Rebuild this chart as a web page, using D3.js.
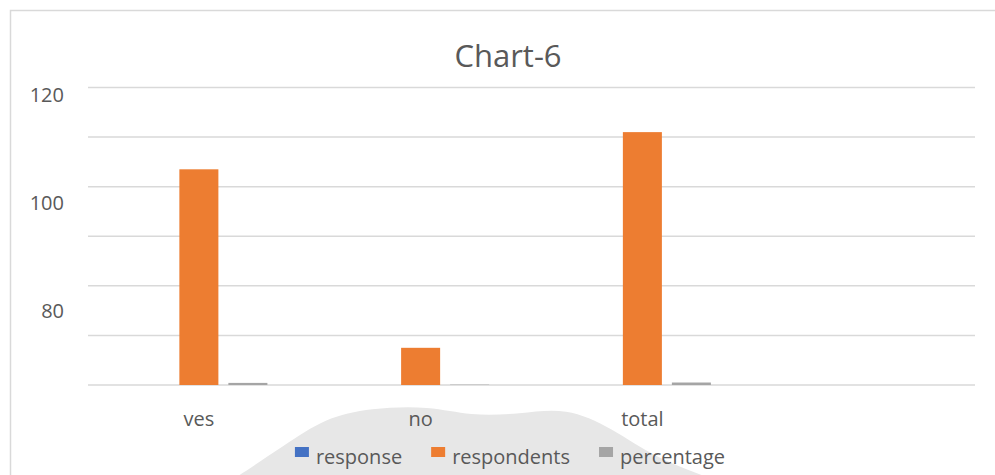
<!DOCTYPE html>
<html>
<head>
<meta charset="utf-8">
<script src="https://cdn.jsdelivr.net/npm/d3@7"></script>
<style>
  body { margin: 0; background: #fff; }
  text { font-family: "Open Sans", "DejaVu Sans", sans-serif; fill: #595959; }
</style>
</head>
<body>
<svg id="chart"></svg>
<script>
const categories = ["ves", "no", "total", ""];
const seriesNames = ["response", "respondents", "percentage"];
const response = [0, 0, 0, 0];
const respondents = [87, 15, 102, 0];
const percentage = [0.85, 0.15, 1.0, 0];
const yTickLabels = [120, 100, 80];
const title = "Chart-6";

const W = 995, H = 475;
const margin = { top: 87.5, right: 20, bottom: 90, left: 88 };
const width = W - margin.left - margin.right;
const height = H - margin.top - margin.bottom;

const colors = d3.scaleOrdinal()
  .domain(seriesNames)
  .range(["#4472C4", "#ED7D31", "#A5A5A5"]);

const rows = categories.map((c, i) => ({
  category: c,
  values: [response[i], respondents[i], percentage[i]]
}));

const svg = d3.select("#chart")
  .attr("width", W)
  .attr("height", H);

// chart area border
svg.append("rect")
  .attr("x", 10.5)
  .attr("y", 10.5)
  .attr("width", W + 20)
  .attr("height", H + 20)
  .attr("fill", "#fff")
  .attr("stroke", "#d9d9d9")
  .attr("stroke-width", 1.5);

// faint scan smudge behind the legend
svg.append("path")
  .attr("d", d3.line().curve(d3.curveBasis)([
    [235, 478], [285, 445], [325, 418], [370, 408], [430, 406], [470, 416],
    [520, 414], [566, 407], [612, 428], [655, 458], [710, 478]
  ]))
  .attr("fill", "#e7e7e7");

const g = svg.append("g")
  .attr("transform", `translate(${margin.left},${margin.top})`);

const x0 = d3.scaleBand()
  .domain(categories)
  .range([0, width])
  .paddingInner(0.382)
  .paddingOuter(0.191);

const x1 = d3.scaleBand()
  .domain(seriesNames)
  .range([0, x0.bandwidth()])
  .paddingInner(0.204);

const y = d3.scaleLinear()
  .domain([0, 120])
  .range([height, 0]);

// gridlines
g.append("g")
  .selectAll("line")
  .data(y.ticks(6))
  .join("line")
  .attr("x1", 0)
  .attr("x2", width)
  .attr("y1", d => y(d))
  .attr("y2", d => y(d))
  .attr("stroke", "#d9d9d9")
  .attr("stroke-width", 1.5);

// bars
const groups = g.selectAll(".cat")
  .data(rows)
  .join("g")
  .attr("class", "cat")
  .attr("transform", d => `translate(${x0(d.category)},0)`);

groups.selectAll("rect")
  .data(d => d.values.map((v, i) => ({ key: seriesNames[i], value: v })))
  .join("rect")
  .attr("x", d => x1(d.key))
  .attr("width", x1.bandwidth())
  .attr("y", d => y(d.value))
  .attr("height", d => y(0) - y(d.value))
  .attr("fill", d => colors(d.key));

// category labels
const xAxis = g.append("g")
  .attr("transform", `translate(0,${height})`)
  .call(d3.axisBottom(x0).tickSize(0).tickPadding(27));
xAxis.select(".domain").remove();
xAxis.selectAll("text")
  .style("font-size", "20px")
  .attr("fill", "#595959");

// value labels (placed as they appear in the reference)
const yLabel = d3.scaleLinear()
  .domain([80, 120])
  .range([311 - margin.top, 95 - margin.top]);

const yAxis = g.append("g")
  .call(d3.axisLeft(yLabel).tickValues(yTickLabels).tickSize(0).tickPadding(24));
yAxis.select(".domain").remove();
yAxis.selectAll("text")
  .style("font-size", "20px")
  .attr("fill", "#595959");

// title
svg.append("text")
  .attr("x", 508)
  .attr("y", 67)
  .attr("text-anchor", "middle")
  .style("font-size", "31px")
  .text(title);

// legend
const legend = svg.append("g").attr("transform", "translate(0,464)");
const items = legend.selectAll("g")
  .data(seriesNames)
  .join("g");

items.append("rect")
  .attr("y", -17)
  .attr("width", 14)
  .attr("height", 10)
  .attr("fill", d => colors(d));

items.append("text")
  .attr("x", 21)
  .style("font-size", "20px")
  .text(d => d);

let offset = 0;
items.each(function () {
  const w = 21 + d3.select(this).select("text").node().getComputedTextLength();
  d3.select(this).attr("data-x", offset);
  offset += w + 29;
});
const total = offset - 29;
const start = 510 - total / 2;
items.attr("transform", function () {
  return `translate(${start + +this.getAttribute("data-x")},0)`;
});
</script>
</body>
</html>
